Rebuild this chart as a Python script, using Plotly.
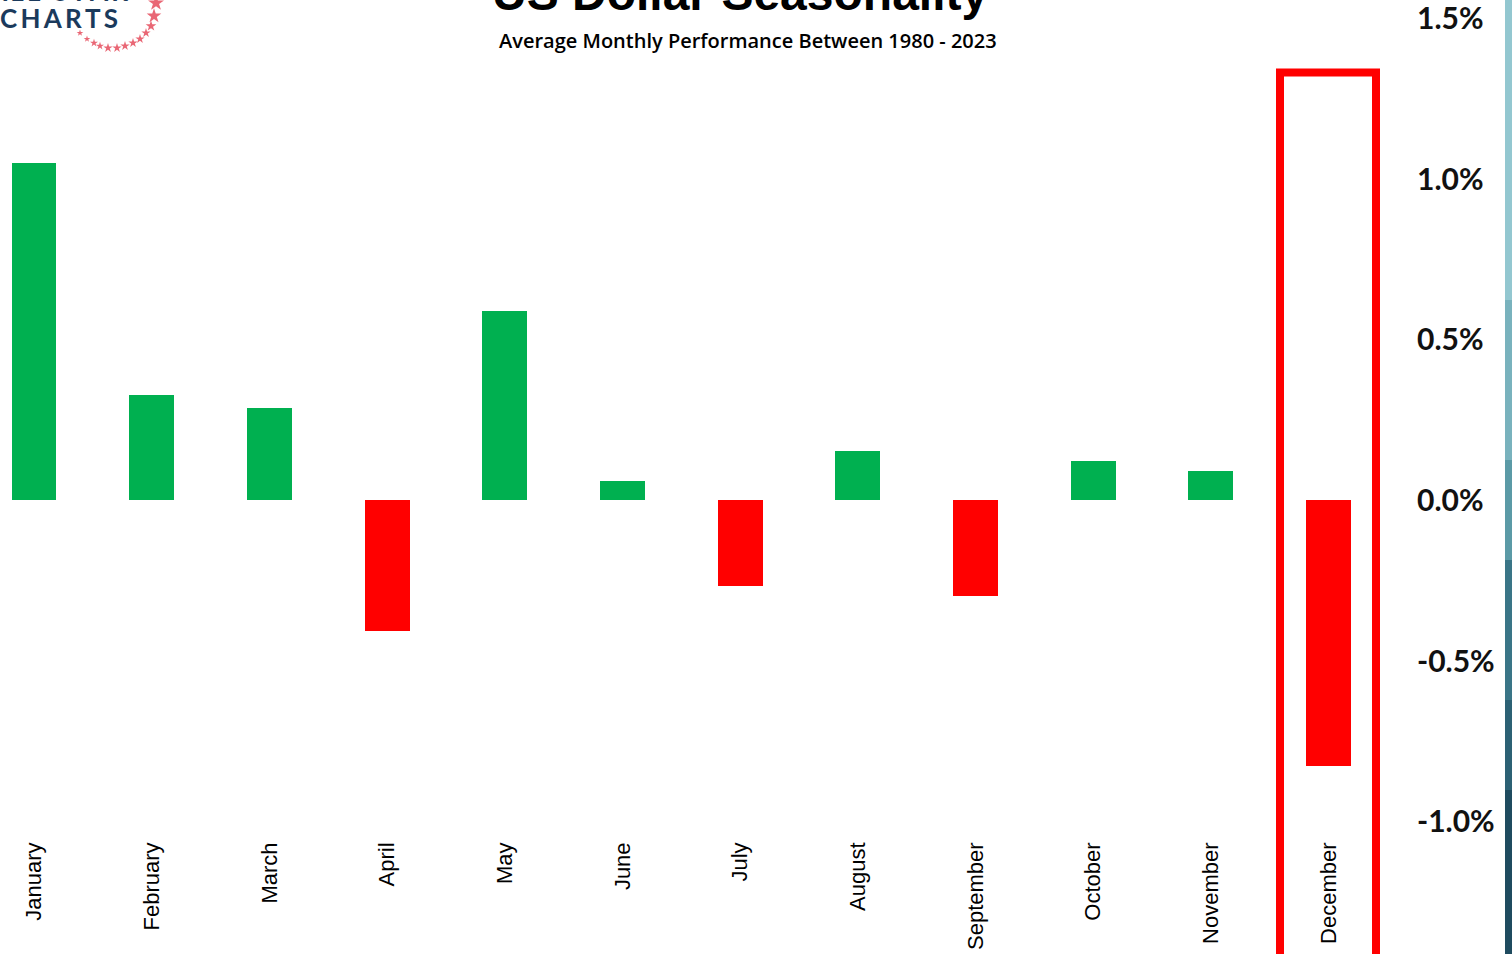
import plotly.graph_objects as go

# ---- data ----
months = ["January", "February", "March", "April", "May", "June",
          "July", "August", "September", "October", "November", "December"]
avg_perf = [1.051, 0.329, 0.288, -0.407, 0.590, 0.061,
            -0.266, 0.154, -0.298, 0.123, 0.092, -0.827]
y_tickvals = [-1.0, -0.5, 0.0, 0.5, 1.0, 1.5]
y_ticktext = ["-1.0%", "-0.5%", "0.0%", "0.5%", "1.0%", "1.5%"]
title_text = "US Dollar Seasonality"
subtitle_text = "Average Monthly Performance Between 1980 - 2023"

# ---- layout geometry ----
W, H = 1512, 954
PW = 1408          # plot area width (px), from left edge
PH = 835           # plot area height (px), from top edge


def px_x(px):
    return px / PW


def px_y(py):
    return 1 - py / PH


GREEN = "#00B050"
RED = "#FF0000"
colors = [GREEN if v >= 0 else RED for v in avg_perf]

fig = go.Figure()
fig.add_trace(go.Bar(
    x=months, y=avg_perf, width=0.382,
    marker=dict(color=colors, line=dict(width=0)),
    hoverinfo="x+y", showlegend=False,
))

# logo stars (pixel coordinates on overlay axes)
star_x = [80, 87, 94, 100, 108, 117, 125, 133, 140, 146, 151, 154, 156]
star_y = [33, 39, 43, 46, 48, 48, 46, 43, 39, 33, 26, 16, 3]
star_s = [5, 5, 6, 6, 7, 7, 7, 7, 7, 7, 8, 11, 12]
fig.add_trace(go.Scatter(
    x=star_x, y=star_y, mode="markers", xaxis="x2", yaxis="y2",
    marker=dict(symbol="star", size=star_s, color="#E0263A", line=dict(width=0)),
    hoverinfo="skip", showlegend=False, cliponaxis=False,
))

fig.update_layout(
    width=W, height=H,
    margin=dict(l=0, r=W - PW, t=0, b=H - PH, pad=0),
    paper_bgcolor="white", plot_bgcolor="white",
    bargap=0,
    xaxis=dict(
        type="category", range=[-0.289, 11.676],
        showgrid=False, zeroline=False, showline=False, ticks="",
        tickangle=-90, ticklabelstandoff=2,
        tickfont=dict(family="Liberation Sans, Arial", size=22, color="#000000"),
    ),
    yaxis=dict(
        side="right", range=[-1.042, 1.559],
        tickvals=y_tickvals, ticktext=y_ticktext,
        showgrid=False, zeroline=False, showline=False, ticks="",
        ticklabelstandoff=8, ticklabeloverflow="allow",
        tickfont=dict(family="Lato, Liberation Sans", size=30, color="#111111", weight="bold"),
    ),
    xaxis2=dict(overlaying="x", range=[0, PW], visible=False, fixedrange=True),
    yaxis2=dict(overlaying="y", range=[PH, 0], visible=False, fixedrange=True),
)

annotations = [
    dict(text=title_text, x=px_x(740), y=px_y(22), xref="paper", yref="paper",
         xanchor="center", yanchor="bottom", showarrow=False,
         font=dict(family="Liberation Sans, Arial", size=48, color="#000000", weight="bold")),
    dict(text=subtitle_text, x=px_x(748), y=px_y(40), xref="paper", yref="paper",
         xanchor="center", yanchor="middle", showarrow=False,
         font=dict(family="Open Sans", size=20, color="#000000", weight=600)),
    dict(text="C\u2009H\u2009A\u2009R\u2009T\u2009S", x=px_x(-2), y=px_y(18), xref="paper", yref="paper",
         xanchor="left", yanchor="middle", showarrow=False,
         font=dict(family="Lato, Liberation Sans", size=26, color="#1B3A5C", weight="bold")),
    dict(text="A\u2009L\u2009L\u2002S\u2009T\u2009A\u2009R", x=px_x(130), y=px_y(-9), xref="paper", yref="paper",
         xanchor="right", yanchor="middle", showarrow=False,
         font=dict(family="Lato, Liberation Sans", size=26, color="#1B3A5C", weight="bold")),
]
fig.update_layout(annotations=annotations)

# red highlight box around December
shapes = [
    dict(type="rect", xref="paper", yref="paper",
         x0=px_x(1280), x1=px_x(1376), y0=px_y(1000), y1=px_y(72.5),
         line=dict(color=RED, width=8), fillcolor="rgba(0,0,0,0)", layer="above"),
]
# teal strip at right edge (screen artifact)
strip = [(0, 300, "#93C7D0"), (300, 460, "#79B2BD"), (460, 560, "#5B9AA6"),
         (560, 700, "#3A7587"), (700, 790, "#2C6174"), (790, 954, "#1F4B5F")]
for y0, y1, c in strip:
    shapes.append(dict(type="rect", xref="paper", yref="paper",
                       x0=px_x(1505), x1=px_x(1515), y0=px_y(y1), y1=px_y(y0),
                       line=dict(width=0), fillcolor=c, layer="above"))
fig.update_layout(shapes=shapes)

fig.write_html(
    "out.html",
    config={"displayModeBar": False},
    post_script="document.body.style.margin='0';document.body.style.overflow='hidden';",
)
